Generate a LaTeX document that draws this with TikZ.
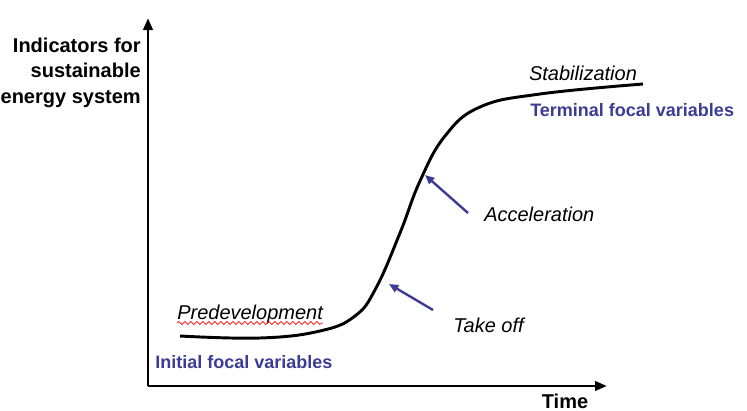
\documentclass[tikz,border=0pt]{standalone}
\usepackage{fontspec}
\setmainfont{Liberation Sans}
\usetikzlibrary{arrows.meta,decorations.pathmorphing}
\definecolor{focalblue}{RGB}{60,60,150}
\tikzset{
  axis/.style={line width=2.2pt,-{Triangle[length=9pt,width=7pt]}},
  curve/.style={line width=2.2pt},
  pointer/.style={line width=1.8pt,focalblue,-{Triangle[length=7pt,width=6pt]}},
  phase/.style={font=\fontsize{15pt}{18pt}\selectfont\itshape,inner sep=0pt},
  focal/.style={font=\fontsize{13.5pt}{16pt}\selectfont\bfseries,text=focalblue,inner sep=0pt},
  axlabel/.style={font=\fontsize{15pt}{18pt}\selectfont\bfseries,inner sep=0pt},
}
\begin{document}
\begin{tikzpicture}[x=0.75pt,y=-0.75pt]
\useasboundingbox (0,0) rectangle (747,411);
% axes
\coordinate (origin) at (148,386);
\coordinate (ytip) at (148,18);
\coordinate (xtip) at (607,386);
\draw[axis] (origin) -- (ytip);
\draw[axis] (origin) -- (xtip);
% curve
\draw[curve] plot[smooth,tension=0.7] coordinates {
 (180,336) (260,338) (320,331) (355,316) (376,288) (400,233)
 (420,181) (445,136) (480,107) (540,94) (643,84)};
% labels
\node[axlabel,anchor=base east,align=right] (ylab) at (141,103)
  {Indicators for\\[1pt]sustainable\\[1pt]energy system};
\node[axlabel,anchor=base] (tlab) at (565,408) {Time};
\node[phase,anchor=base] (stab) at (583,80) {Stabilization};
\node[focal,anchor=base west] (term) at (530,116) {Terminal focal variables};
\node[phase,anchor=base west] (acc) at (484,221) {Acceleration};
\node[phase,anchor=base west] (take) at (453,332) {Take off};
\node[phase,anchor=base west] (pre) at (177,319) {Predevelopment};
\node[focal,anchor=base west] (init) at (155,368) {Initial focal variables};
% spell-check underline
\draw[red,line width=0.5pt,decorate,decoration={snake,amplitude=1.1,segment length=4.5}]
  ([yshift=-3pt]pre.base west) -- ([yshift=-3pt]pre.base east);
% pointers
\coordinate (accfrom) at (468,213);
\coordinate (accto) at (425,175);
\coordinate (takefrom) at (433,310);
\coordinate (taketo) at (389,284);
\draw[pointer] (accfrom) -- (accto);
\draw[pointer] (takefrom) -- (taketo);
\end{tikzpicture}
\end{document}
